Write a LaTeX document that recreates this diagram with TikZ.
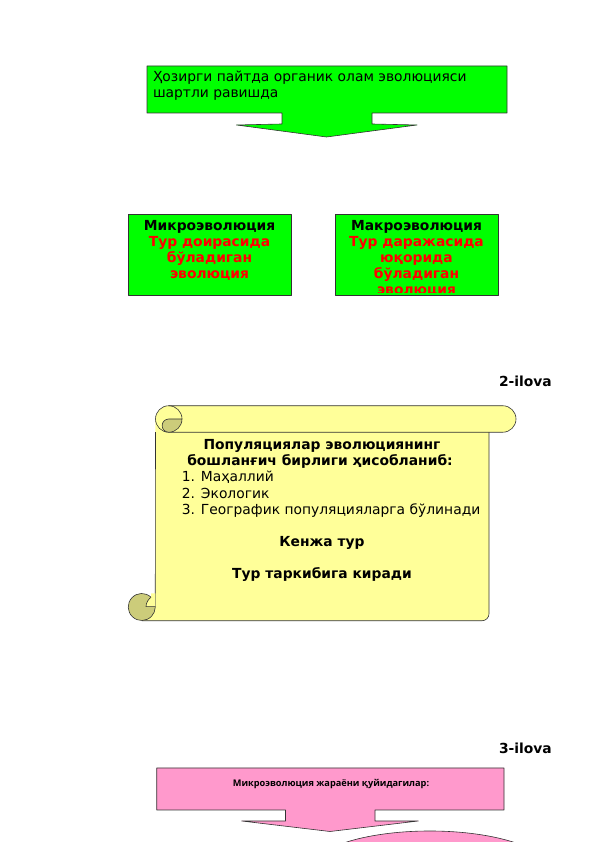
\documentclass[tikz,border=0pt]{standalone}
\usepackage{fontspec}
\setmainfont{DejaVu Sans}
\newfontfamily\osans{Open Sans}
\definecolor{grn}{HTML}{00FF00}
\definecolor{pnk}{HTML}{FF99CC}
\definecolor{scrl}{HTML}{FFFF99}
\definecolor{scrld}{HTML}{CCCC7A}
\definecolor{edgec}{HTML}{333333}
\definecolor{redt}{HTML}{FF0000}
\tikzset{
  edge/.style={draw=edgec, line width=0.6pt, line join=round},
  t14/.style={font=\fontsize{13.85}{16}\selectfont, inner sep=0pt},
  t14b/.style={font=\fontsize{13.85}{16}\selectfont\bfseries, inner sep=0pt},
  tpink/.style={font=\osans\fontsize{9.2}{11}\selectfont\bfseries, inner sep=0pt},
}
\begin{document}
\begin{tikzpicture}[x=1pt,y=1pt]
\useasboundingbox (0,0) rectangle (596,842);
\fill[white] (0,0) rectangle (596,842);

% ---------- top green arrow callout
\path[edge, fill=grn] (147,776) -- (507,776) -- (507,729) -- (372,729) -- (372,718)
  -- (417,717) -- (326.5,705) -- (236.5,717) -- (282,718) -- (282,729) -- (147,729) -- cycle;
\node[t14, anchor=base west] (t1) at (152.8,760) {Ҳозирги пайтда органик олам эволюцияси};
\node[t14, anchor=base west] (t2) at (152.8,744) {шартли равишда};

% ---------- green boxes
\draw[edge, fill=grn] (128,628) rectangle (291,547);
\node[t14b, anchor=base] (mi1) at (209.5,611) {Микроэволюция};
\node[t14b, text=redt, anchor=base] (mi2) at (209.5,595) {Тур доирасида};
\node[t14b, text=redt, anchor=base] (mi3) at (209.5,579) {бўладиган};
\node[t14b, text=redt, anchor=base] (mi4) at (209.5,563) {эволюция};

\draw[edge, fill=grn] (335,628) rectangle (498,547);
\begin{scope}
\clip (335,628) rectangle (498,549.5);
\node[t14b, anchor=base] (ma1) at (416.5,611) {Макроэволюция};
\node[t14b, text=redt, anchor=base] (ma2) at (416.5,595) {Тур даражасида};
\node[t14b, text=redt, anchor=base] (ma3) at (416.5,579) {юқорида};
\node[t14b, text=redt, anchor=base] (ma4) at (416.5,563) {бўладиган};
\node[t14b, text=redt, anchor=base] (ma5) at (416.5,547) {эволюция};
\end{scope}

% ---------- 2-ilova
\node[t14b, anchor=base east] (il2) at (552,455.3) {2-ilova};

% ---------- scroll
% body
\fill[scrl] (155.5,423) -- (155.25,235) -- (141.75,235) -- (141.75,221.25) -- (482,221.25)
  arc[start angle=-90, end angle=0, radius=7] -- (489,423) -- cycle;
\draw[edge] (155.5,409.75) -- (155.25,235);
\draw[edge] (141.75,221.25) -- (482,221.25) arc[start angle=-90, end angle=0, radius=7] -- (489,409.75);
% top roll
\draw[edge, fill=scrl] (168.75,436.25) -- (502.75,436.25) arc[start angle=90, end angle=-90, radius=13.25]
  -- (168.75,409.75) arc[start angle=-90, end angle=-270, radius=13.25] -- cycle;
\draw[edge, fill=scrld] (182,423) arc[start angle=0, end angle=-90, radius=13.25]
  arc[start angle=-90, end angle=-270, radius=6.625] -- cycle;
\draw[edge] (168.75,436.25) arc[start angle=90, end angle=0, radius=13.25];
% bottom curl
\fill[scrld] (141.75,235) circle[radius=13.5];
\fill[scrl] (146,235.3) .. controls (146,240) and (149,243) .. (151,244.8) -- (151,248.5)
  -- (155.25,248.5) -- (155.25,235.3) -- cycle;
\draw[edge] (141.75,235) ++(46.8:13.5) arc[start angle=46.8, end angle=360, radius=13.5];
\draw[edge] (155.25,235.3) -- (146,235.3) .. controls (146,240) and (149,243) .. (151,244.8);

\node[t14b, anchor=base] (s1) at (322,392) {Популяциялар эволюциянинг};
\node[t14b, anchor=base] (s2) at (320,376) {бошланғич бирлиги ҳисобланиб:};
\node[t14, anchor=base west] (s3) at (181.7,360) {1. Маҳаллий};
\node[t14, anchor=base west] (s4) at (181.7,343.5) {2. Экологик};
\node[t14, anchor=base west] (s5) at (181.7,327) {3. Географик популяцияларга бўлинади};
\node[t14b, anchor=base] (s6) at (322,295) {Кенжа тур};
\node[t14b, anchor=base] (s7) at (322,263) {Тур таркибига киради};

% ---------- 3-ilova
\node[t14b, anchor=base east] (il3) at (552,88.7) {3-ilova};

% ---------- pink arrow callout
\path[edge, fill=pnk] (156.7,74) -- (504,74) -- (504,32) -- (375,32) -- (375,21)
  -- (418.3,21) -- (330,10.5) -- (241.7,21) -- (285.5,21) -- (285.5,32) -- (156.7,32) -- cycle;
\node[tpink, anchor=base] (p1) at (331,55.3) {Микроэволюция жараёни қуйидагилар:};

\begin{scope}
\clip (0,0) rectangle (596,842);
\draw[edge, fill=pnk] (429.85,-28.5) ellipse[x radius=120, y radius=39.5];
\end{scope}
\end{tikzpicture}
\end{document}
